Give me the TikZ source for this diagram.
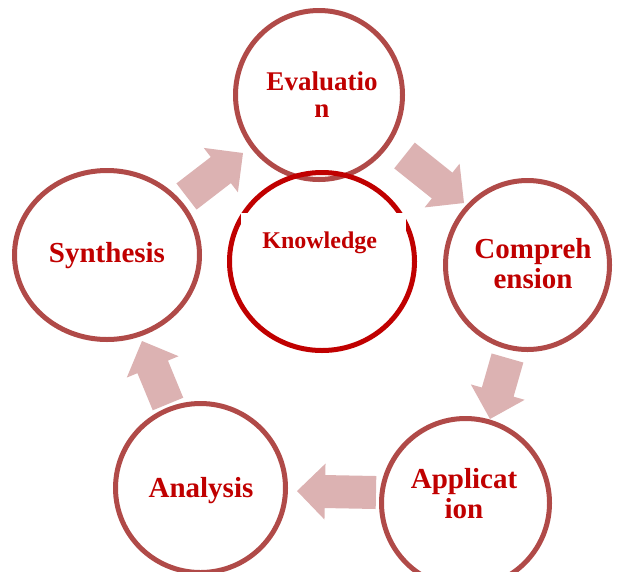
\documentclass[tikz,border=0pt]{standalone}
\usepackage{fontspec}
\setmainfont{Liberation Serif}
\usetikzlibrary{calc,shapes.geometric}
\definecolor{ringred}{HTML}{B04A48}
\definecolor{kred}{HTML}{C00000}
\definecolor{flowpink}{HTML}{DCB2B2}
% block arrow from tail (#1) to tip (#2)
\newcommand{\flowarrow}[2]{%
  \coordinate (#1-h) at ($(#2)!28pt!(#1)$);
  \fill[flow] ($(#1)!16.5pt!90:(#2)$) -- ($(#1-h)!16.5pt!90:(#2)$)
    -- ($(#1-h)!28pt!90:(#2)$) -- (#2) -- ($(#1-h)!28pt!-90:(#2)$)
    -- ($(#1-h)!16.5pt!-90:(#2)$) -- ($(#1)!16.5pt!-90:(#2)$) -- cycle;}
\begin{document}
\begin{tikzpicture}[x=1pt, y=-1pt,
    ring/.style={ellipse, draw=ringred, line width=5pt, inner sep=0pt},
    flow/.style={fill=flowpink},
    lbl/.style={text=kred, font=\bfseries\fontsize{29}{30}\selectfont, align=center, inner sep=0pt}]
    \useasboundingbox (0,0) rectangle (617,571);
    % Arrows between the stages
    \coordinate (syn-out) at (186.5,196.5);
    \coordinate (eva-in) at (243,153);
    \coordinate (eva-out) at (404.5,155.5);
    \coordinate (com-in) at (464,203);
    \coordinate (com-out) at (507.5,358);
    \coordinate (app-in) at (490,419);
    \coordinate (app-out) at (376,492.5);
    \coordinate (ana-in) at (297,491);
    \coordinate (ana-out) at (168,404);
    \coordinate (syn-in) at (142,341);
    \flowarrow{syn-out}{eva-in}
    \flowarrow{eva-out}{com-in}
    \flowarrow{com-out}{app-in}
    \flowarrow{app-out}{ana-in}
    \flowarrow{ana-out}{syn-in}
    % Stage circles
    \node [ring, minimum width=167, minimum height=169] (eva) at (319,95) {};
    \node [ring, minimum width=164, minimum height=169] (com) at (527.5,265) {};
    \node [ring, minimum width=168, minimum height=169] (app) at (465.5,503) {};
    \node [ring, minimum width=170, minimum height=169] (ana) at (200.5,488) {};
    \node [ring, minimum width=185, minimum height=169] (syn) at (107,255) {};
    \node [ring, draw=kred, minimum width=185, minimum height=178] (kno) at (322,261.5) {};
    \node [fill=white, anchor=north, minimum width=165, minimum height=40, inner sep=0pt] (kbox) at (323,213) {};
    % Labels
    \node [lbl, font=\bfseries\fontsize{27}{27}\selectfont] (eva text) at (322,94.4) {Evaluatio\\n};
    \node [lbl] (com text) at (533,263.5) {Compreh\\ension};
    \node [lbl] (app text) at (464,493.5) {Applicat\\ion};
    \node [lbl, anchor=base] (ana text) at (201,497) {Analysis};
    \node [lbl, anchor=base] (syn text) at (107,262) {Synthesis};
    \node [lbl, anchor=base, font=\bfseries\fontsize{24}{26}\selectfont] (kno text) at (319.7,248) {Knowledge};
\end{tikzpicture}
\end{document}
